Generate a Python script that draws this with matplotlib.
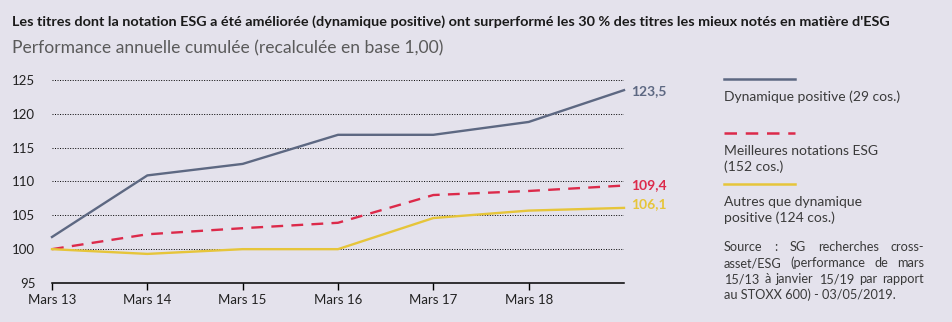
import matplotlib.pyplot as plt

plt.rcParams['font.family'] = ['Lato', 'DejaVu Sans']

# Données (base 100)
periodes = ["Mars 13", "Mars 14", "Mars 15", "Mars 16", "Mars 17", "Mars 18"]
dynamique_positive = [101.8, 110.9, 112.6, 116.9, 116.9, 118.8, 123.5]
meilleures_notations = [100.0, 102.2, 103.1, 103.9, 108.0, 108.6, 109.4]
autres = [100.0, 99.3, 100.0, 100.0, 104.6, 105.7, 106.1]

GRIS = "#5d6882"
ROUGE = "#dc2a4a"
JAUNE = "#e6c53a"
FOND = "#e4e2ec"
TEXTE = "#3a3a3a"

W, H = 952, 322
fig = plt.figure(figsize=(W / 100, H / 100), dpi=100, facecolor=FOND)

def px(x, y):
    return x / W, 1 - y / H

fig.text(*px(12, 22), "Les titres dont la notation ESG a été améliorée (dynamique positive) "
         "ont surperformé les 30 % des titres les mieux notés en matière d'ESG",
         fontsize=10.4, fontweight='bold', color="#1a1a1a", va='center')
fig.text(*px(12, 48), "Performance annuelle cumulée (recalculée en base 1,00)",
         fontsize=12.6, fontweight='normal', color="#5a5a5a", va='center')

ax = fig.add_axes([52 / W, 39 / H, (624 - 52) / W, (283 - 80) / H])
ax.set_facecolor(FOND)
x = range(len(dynamique_positive))

ax.plot(x, dynamique_positive, color=GRIS, lw=1.7, clip_on=False)
ax.plot(x, meilleures_notations, color=ROUGE, lw=1.7, dashes=(5, 3.5), clip_on=False)
ax.plot(x, autres, color=JAUNE, lw=1.7, clip_on=False)

ax.set_xlim(0, 6)
ax.set_ylim(95, 125)
ax.set_yticks(range(95, 126, 5))
ax.set_xticks(range(len(periodes)))
ax.set_xticklabels(periodes)
ax.tick_params(axis='y', length=0, pad=12, labelsize=9.5, labelcolor="#222222")
ax.tick_params(axis='x', length=5, width=1, pad=3, labelsize=9.5, labelcolor="#222222",
               direction='out')
ax.yaxis.grid(True, color="black", lw=0.7, linestyle=(0, (1, 1.6)))
for s in ("top", "right", "left"):
    ax.spines[s].set_visible(False)
ax.spines["bottom"].set_linewidth(1.1)

# Valeurs finales
for serie, c, dy in [(dynamique_positive, GRIS, -0.2), (meilleures_notations, ROUGE, 0),
                     (autres, JAUNE, 0.6)]:
    ax.text(6.07, serie[-1] + dy, f"{serie[-1]:.1f}".replace(".", ","), color=c,
            fontsize=10, fontweight='bold', va='center', ha='left', clip_on=False)

# Légende
leg = [(79, GRIS, None, ["Dynamique positive (29 cos.)"]),
       (133, ROUGE, (5, 3.5), ["Meilleures notations ESG", "(152 cos.)"]),
       (184, JAUNE, None, ["Autres que dynamique", "positive (124 cos.)"])]
for y0, c, d, lignes in leg:
    x0, y_ = px(724, y0)
    x1, _ = px(795, y0)
    ln = plt.Line2D([x0, x1], [y_, y_], color=c, lw=1.8, transform=fig.transFigure)
    if d:
        ln.set_dashes(d)
    fig.add_artist(ln)
    for i, t in enumerate(lignes):
        fig.text(*px(724, y0 + 18 + 16 * i), t, fontsize=10, fontweight='normal',
                 color=TEXTE, va='center')

# Source, texte justifié
source = ["Source : SG recherches cross-",
          "asset/ESG (performance de mars",
          "15/13 à janvier 15/19 par rapport",
          "au STOXX 600) - 03/05/2019."]
renderer = fig.canvas.get_renderer()
gauche, droite = 724, 924
for i, ligne in enumerate(source):
    y = 247 + 16 * i
    mots = ligne.split(" ")
    if i == len(source) - 1:
        fig.text(*px(gauche, y), ligne, fontsize=9.2, fontweight='normal',
                 color=TEXTE, va='center')
        continue
    arts = [fig.text(0, px(0, y)[1], m, fontsize=9.2, fontweight='normal',
                     color=TEXTE, va='center') for m in mots]
    larg = [a.get_window_extent(renderer).width for a in arts]
    espace = (droite - gauche - sum(larg)) / (len(mots) - 1)
    pos = gauche
    for a, w in zip(arts, larg):
        a.set_x(pos / W)
        pos += w + espace

fig.savefig("out.png", dpi=100, facecolor=FOND)
